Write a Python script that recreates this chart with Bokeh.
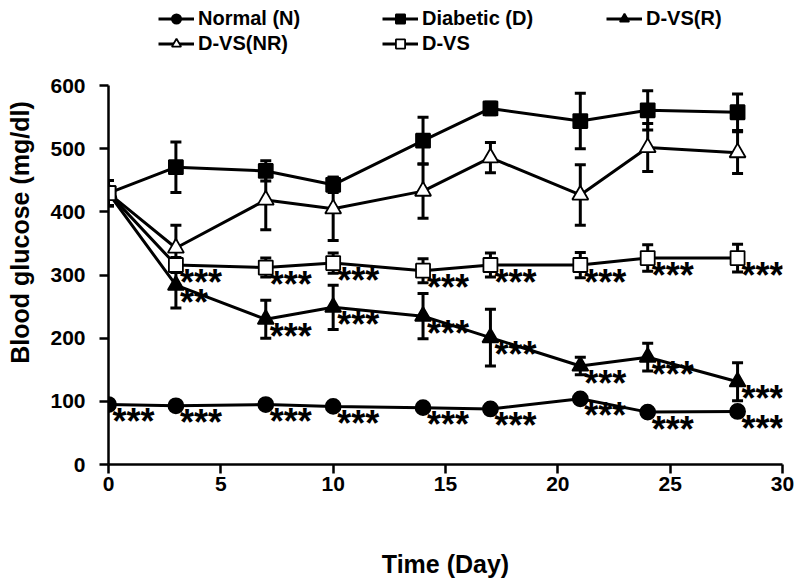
from bokeh.plotting import figure
from bokeh.models import ColumnDataSource, Whisker, TeeHead, Legend, LegendItem, FixedTicker
from bokeh.core.properties import value
from bokeh.embed import file_html
from bokeh.resources import INLINE

# ---- data ----
days = [0, 3, 7, 10, 14, 17, 21, 24, 28]

normal = [95, 93, 95, 92, 90, 88, 104, 83, 84]
normal_err = [5, 5, 5, 5, 5, 5, 5, 5, 5]
normal_sig = ["***", "***", "***", "***", "***", "***", "***", "***", "***"]

diabetic = [430, 471, 465, 443, 513, 564, 544, 561, 558]
diabetic_err = [20, 40, 16, 12, 37, 10, 44, 31, 29]

dvs_r = [430, 284, 230, 249, 235, 201, 156, 170, 131]
dvs_r_err = [20, 36, 30, 35, 36, 45, 14, 22, 30]
dvs_r_sig = ["", "**", "***", "***", "***", "***", "***", "***", "***"]

dvs_nr = [430, 343, 419, 405, 433, 486, 427, 502, 494]
dvs_nr_err = [20, 36, 47, 50, 43, 24, 48, 38, 33]

dvs = [430, 316, 312, 319, 307, 316, 316, 327, 327]
dvs_err = [20, 12, 15, 16, 19, 19, 20, 21, 22]
dvs_sig = ["", "***", "***", "***", "***", "***", "***", "***", "***"]

x_ticks = [0, 5, 10, 15, 20, 25, 30]
y_ticks = [0, 100, 200, 300, 400, 500, 600]

FONT = "Liberation Sans"

# y range reaches above 600 so the legend sits inside the frame;
# the axis itself is bounded to 0-600.
p = figure(width=798, height=580, x_range=(0, 30), y_range=(0, 735),
           output_backend="svg", toolbar_location=None,
           min_border_left=108, min_border_right=16,
           min_border_top=0, min_border_bottom=108)
p.outline_line_color = None
p.xgrid.visible = False
p.ygrid.visible = False
p.background_fill_color = "white"
p.border_fill_color = "white"

for ax in (p.xaxis[0], p.yaxis[0]):
    ax.axis_line_width = 2.5
    ax.axis_line_color = "black"
    ax.major_tick_line_width = 2.5
    ax.major_tick_line_color = "black"
    ax.major_tick_in = 0
    ax.major_tick_out = 9
    ax.minor_tick_line_color = None
    ax.major_label_text_font = FONT
    ax.major_label_text_font_style = "bold"
    ax.major_label_text_font_size = "21px"
    ax.major_label_text_color = "black"
    ax.axis_label_text_font = FONT
    ax.axis_label_text_font_style = "bold"
    ax.axis_label_text_font_size = "25px"
    ax.axis_label_text_color = "black"

p.xaxis.ticker = FixedTicker(ticks=x_ticks)
p.yaxis.ticker = FixedTicker(ticks=y_ticks)
p.yaxis.bounds = (0, 600)
p.xaxis.axis_label = "Time (Day)"
p.yaxis.axis_label = "Blood glucose (mg/dl)"
p.xaxis.major_label_standoff = 3
p.xaxis.axis_label_standoff = 56
p.yaxis.major_label_standoff = 14
p.yaxis.axis_label_standoff = 13

series = [
    ("Normal (N)", normal, normal_err, "circle", 15, "black", normal_sig),
    ("Diabetic (D)", diabetic, diabetic_err, "square", 14, "black", None),
    ("D-VS(R)", dvs_r, dvs_r_err, "triangle", 16, "black", dvs_r_sig),
    ("D-VS(NR)", dvs_nr, dvs_nr_err, "triangle", 16, "white", None),
    ("D-VS", dvs, dvs_err, "square", 14, "white", dvs_sig),
]

items = []
for name, vals, errs, marker, size, fill, sig in series:
    src = ColumnDataSource(dict(
        x=days, y=vals,
        lo=[v - e for v, e in zip(vals, errs)],
        hi=[v + e for v, e in zip(vals, errs)],
    ))
    w = Whisker(source=src, base="x", upper="hi", lower="lo",
                line_color="black", line_width=3,
                upper_head=TeeHead(size=11, line_width=3, line_color="black"),
                lower_head=TeeHead(size=11, line_width=3, line_color="black"))
    p.add_layout(w)
    ln = p.line("x", "y", source=src, line_color="black", line_width=3)
    sc = p.scatter("x", "y", source=src, marker=marker, size=size,
                   fill_color=fill, line_color="black", line_width=1.8)
    items.append(LegendItem(label=name, renderers=[ln, sc]))
    if sig is not None:
        tsrc = ColumnDataSource(dict(x=days, y=vals, t=sig))
        p.text("x", "y", text="t", source=tsrc, x_offset=4, y_offset=17,
               text_font=value(FONT), text_font_style="bold",
               text_font_size="36px", text_align="left",
               text_baseline="alphabetic", text_color="black")

legend = Legend(items=items, location=(50, 409), orientation="horizontal",
                ncols=3, glyph_width=36, glyph_height=23, label_height=23,
                label_width=182, label_standoff=4, spacing=2, padding=0,
                margin=0, border_line_color=None, background_fill_alpha=0,
                label_text_font=FONT, label_text_font_style="bold",
                label_text_font_size="20px", label_text_color="black")
p.add_layout(legend, "center")

open("out.html", "w").write(file_html(p, INLINE))
